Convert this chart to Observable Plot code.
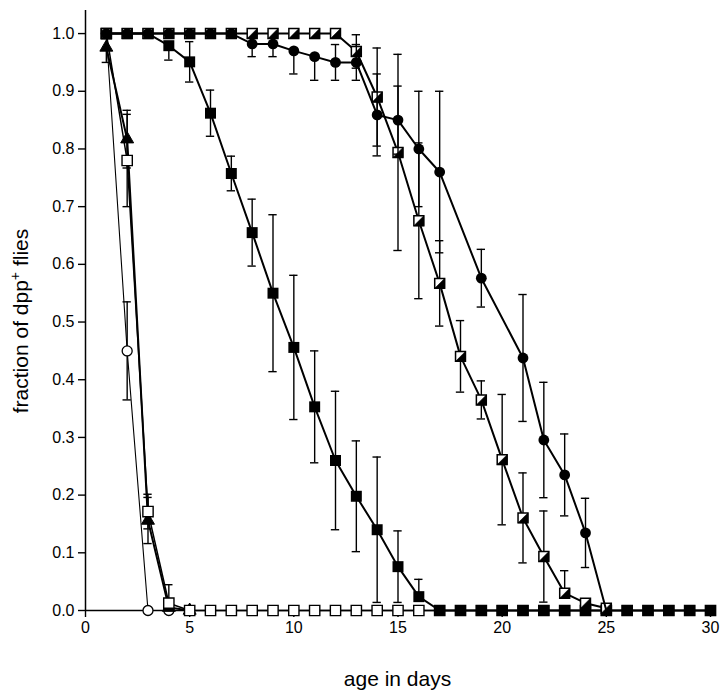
<!DOCTYPE html>
<html><head><meta charset="utf-8">
<script src="https://cdn.jsdelivr.net/npm/d3@7"></script>
<script src="https://cdn.jsdelivr.net/npm/@observablehq/plot@0.6"></script>
<style>body{margin:0;background:#fff} svg{display:block}</style>
</head><body><div id="chart"></div>
<script>
// ---- data ----
const days = [1,2,3,4,5,6,7,8,9,10,11,12,13,14,15,16,17,18,19,20,21,22,23,24,25,26,27,28,29,30];

// open circles
const openCircleDays = [1,2,3,4];
const openCircleVal  = [1.0,0.45,0,0];
const openCircleErr  = [0,0.085,0,0];

// filled triangles
const triDays = [1,2,3,4,5];
const triVal  = [0.976,0.817,0.156,0.005,0];
const triErr  = [0.026,0.05,0.04,0,0];

// open squares
const openSqVal = [1.0,0.78,0.1715,0.0127,0,0,0,0,0,0,0,0,0,0,0,0,0,0,0,0,0,0,0,0,0,0,0,0,0,0];
const openSqErr = [0,0.08,0.03,0.032,0,0,0,0,0,0,0,0,0,0,0,0,0,0,0,0,0,0,0,0,0,0,0,0,0,0];

// filled squares
const filledSqVal = [1,1,1,0.979,0.951,0.862,0.7575,0.655,0.55,0.456,0.353,0.26,0.198,0.14,0.076,0.024,0,0,0,0,0,0,0,0,0,0,0,0,0,0];
const filledSqErr = [0,0,0,0.025,0.035,0.04,0.03,0.058,0.136,0.125,0.097,0.12,0.096,0.126,0.062,0.03,0,0,0,0,0,0,0,0,0,0,0,0,0,0];

// half-filled squares
const halfSqDays = [1,2,3,4,5,6,7,8,9,10,11,12,13,14,15,16,17,18,19,20,21,22,23,24,25];
const halfSqVal  = [1,1,1,1,1,1,1,1,1,1,1,1,0.969,0.89,0.794,0.6755,0.567,0.4405,0.365,0.2615,0.1605,0.0935,0.03,0.0127,0.004];
const halfSqErr  = [0,0,0,0,0,0,0,0,0,0,0,0,0.029,0.085,0.17,0.135,0.074,0.062,0.033,0.113,0.078,0.079,0.039,0,0];

// filled circles
const circDays = [1,2,3,4,5,6,7,8,9,10,11,12,13,14,15,16,17,19,21,22,23,24,25];
const circVal  = [1,1,1,1,1,1,1,0.982,0.982,0.97,0.96,0.95,0.95,0.859,0.85,0.80,0.76,0.576,0.4377,0.2955,0.235,0.1345,0];
const circErr  = [0,0,0,0,0,0,0,0.022,0.022,0.04,0.041,0.031,0.031,0.071,0.059,0.10,0.14,0.05,0.11,0.10,0.071,0.06,0];

const xTicks = [0,5,10,15,20,25,30];
const yTicks = [0,0.1,0.2,0.3,0.4,0.5,0.6,0.7,0.8,0.9,1.0];

// ---- helpers ----
const rows = (ds, vs, es) => vs.map((v, i) => ({day: ds[i], v, e: es[i]}));
const upper = r => r.filter(d => d.e > 0 && d.v + d.e <= 1.0001);
const lower = r => r.filter(d => d.e > 0 && d.v - d.e >= -0.0001);
const capHalf = 0.2;

function errorMarks(r) {
  const up = upper(r), lo = lower(r);
  const sw = 1.4;
  return [
    Plot.ruleX(up, {x: "day", y1: "v", y2: d => d.v + d.e, strokeWidth: sw}),
    Plot.ruleY(up, {y: d => d.v + d.e, x1: d => d.day - capHalf, x2: d => d.day + capHalf, strokeWidth: sw}),
    Plot.ruleX(lo, {x: "day", y1: "v", y2: d => d.v - d.e, strokeWidth: sw}),
    Plot.ruleY(lo, {y: d => d.v - d.e, x1: d => d.day - capHalf, x2: d => d.day + capHalf, strokeWidth: sw})
  ];
}

// lower-right black triangle (same extent as a square symbol)
const halfTri = {
  draw(context, size) {
    const s = Math.sqrt(size) / 2;
    context.moveTo(s, -s);
    context.lineTo(s, s);
    context.lineTo(-s, s);
    context.closePath();
  }
};

const oc = rows(openCircleDays, openCircleVal, openCircleErr);
const tr = rows(triDays, triVal, triErr);
const os = rows(days, openSqVal, openSqErr);
const fs = rows(days, filledSqVal, filledSqErr);
const hs = rows(halfSqDays, halfSqVal, halfSqErr);
const fc = rows(circDays, circVal, circErr);

const plot = Plot.plot({
  width: 720,
  height: 695,
  marginLeft: 85,
  marginRight: 10,
  marginTop: 10,
  marginBottom: 85,
  style: {fontFamily: "'Liberation Sans', Arial, Helvetica, sans-serif", background: "#fff", color: "#000"},
  x: {domain: [0, 30]},
  y: {domain: [0, 1.04]},
  marks: [
    Plot.axisX({ticks: xTicks, tickSize: 7, tickPadding: 4, fontSize: 16, label: null, strokeWidth: 1.4}),
    Plot.axisY({ticks: yTicks, tickFormat: d3.format(".1f"), tickSize: 7, tickPadding: 4, fontSize: 16, label: null, strokeWidth: 1.4}),
    Plot.ruleX([0], {strokeWidth: 1.5}),
    Plot.ruleY([0], {strokeWidth: 1.5}),

    // open circles
    ...errorMarks(oc),
    Plot.line(oc, {x: "day", y: "v", strokeWidth: 1.1}),
    Plot.dot(oc, {x: "day", y: "v", r: 5, fill: "white", stroke: "black", strokeWidth: 1.3}),

    // triangles
    ...errorMarks(tr),
    Plot.line(tr, {x: "day", y: "v", strokeWidth: 2}),
    Plot.dot(tr, {x: "day", y: "v", symbol: "triangle", r: 4.8, fill: "black", stroke: "black", strokeWidth: 1}),

    // open squares
    ...errorMarks(os),
    Plot.line(os, {x: "day", y: "v", strokeWidth: 1.5}),
    Plot.dot(os, {x: "day", y: "v", symbol: "square", r: 5.8, fill: "white", stroke: "black", strokeWidth: 1.4}),

    // filled squares
    ...errorMarks(fs),
    Plot.line(fs, {x: "day", y: "v", strokeWidth: 2}),
    Plot.dot(fs, {x: "day", y: "v", symbol: "square", r: 6.2, fill: "black", stroke: "none"}),

    // half-filled squares
    ...errorMarks(hs),
    Plot.line(hs, {x: "day", y: "v", strokeWidth: 2}),
    Plot.dot(hs, {x: "day", y: "v", symbol: "square", r: 5.6, fill: "white", stroke: "black", strokeWidth: 1.5}),
    Plot.dot(hs, {x: "day", y: "v", symbol: halfTri, r: 5.6, fill: "black", stroke: "black", strokeWidth: 0.6}),

    // filled circles
    ...errorMarks(fc),
    Plot.line(fc, {x: "day", y: "v", strokeWidth: 2}),
    Plot.dot(fc.filter(d => d.v > 0), {x: "day", y: "v", r: 5.4, fill: "black", stroke: "none"})
  ]
});

const svg = d3.select(plot);
svg.append("text")
  .attr("x", 397.5).attr("y", 686)
  .attr("text-anchor", "middle")
  .attr("font-size", 21)
  .attr("font-family", "'Liberation Sans', Arial, sans-serif")
  .text("age in days");
const yl = svg.append("text")
  .attr("transform", "translate(28,321) rotate(-90)")
  .attr("text-anchor", "middle")
  .attr("font-size", 21)
  .attr("font-family", "'Liberation Sans', Arial, sans-serif");
yl.append("tspan").text("fraction of dpp");
yl.append("tspan").attr("font-size", 14).attr("dy", -8).text("+");
yl.append("tspan").attr("dy", 8).text(" flies");

document.getElementById("chart").appendChild(plot);
</script>
</body></html>
